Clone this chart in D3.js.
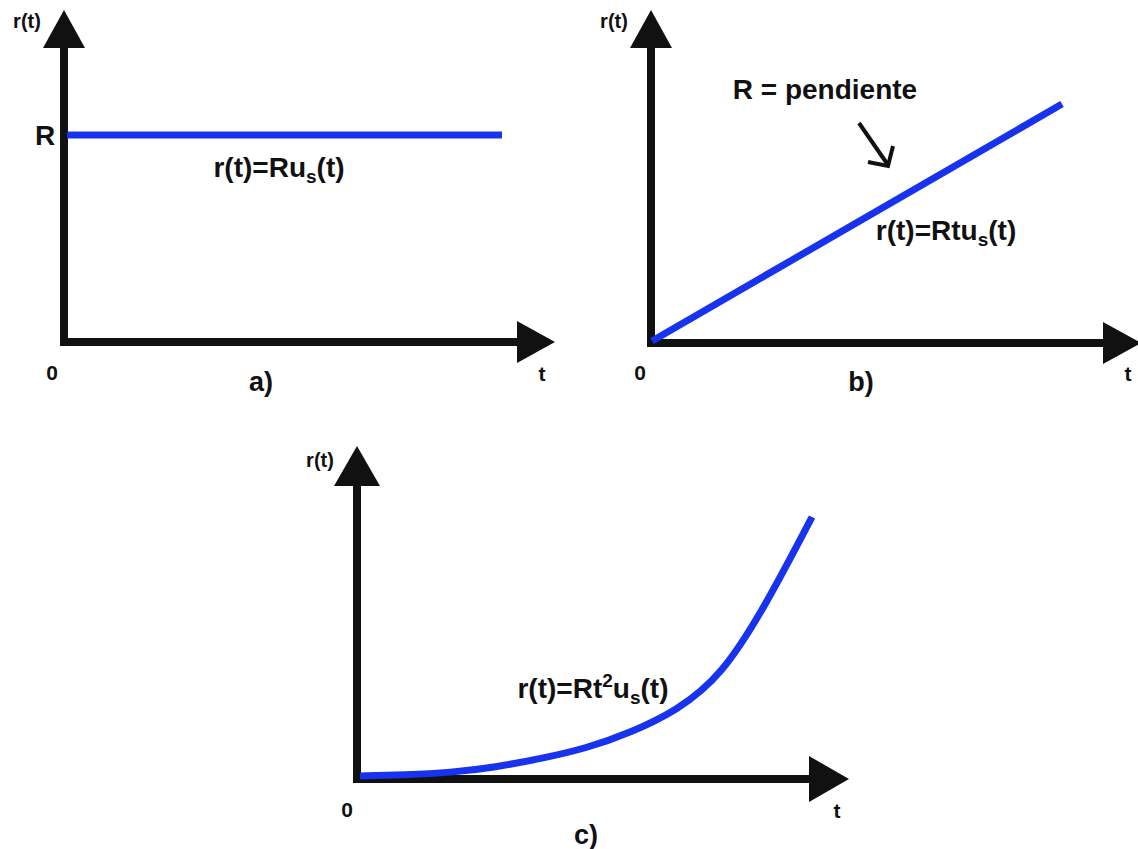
<!DOCTYPE html>
<html><head><meta charset="utf-8">
<script src="https://cdn.jsdelivr.net/npm/d3@7"></script>
<style>
html,body{margin:0;padding:0;background:#fff;}
text{font-family:"Liberation Sans",Arial,sans-serif;font-weight:bold;fill:#111;}
</style></head>
<body>
<svg id="c" width="1138" height="849"></svg>
<script>
// ---- data ----
const tA = [0, 10];            // panel a: step  r(t)=R us(t)
const rA = [1, 1];
const tB = [0, 10];            // panel b: ramp  r(t)=R t us(t)
const rB = [0, 10];
const tC = [0, 1, 2, 3, 4, 5, 6, 7, 8, 9, 10];   // panel c: parabola r(t)=R t^2 us(t)
const rC = [0, 0.05, 0.15, 0.36, 0.68, 1.1, 1.72, 2.6, 4.1, 6.75, 10];
const panelLabels = ["a)", "b)", "c)"];

const svg = d3.select("#c");
const BLUE = "#1733ee", BLACK = "#111";

function axes(ox, oy, xEnd, yTop, head) {
  svg.append("line").attr("x1", ox).attr("x2", ox).attr("y1", oy + 4).attr("y2", yTop + head.l - 1)
    .attr("stroke", BLACK).attr("stroke-width", 8);
  svg.append("path").attr("d", `M${ox},${yTop} L${ox - head.w / 2},${yTop + head.l} L${ox + head.w / 2},${yTop + head.l} Z`).attr("fill", BLACK);
  svg.append("line").attr("x1", ox - 4).attr("x2", xEnd - head.l + 1).attr("y1", oy).attr("y2", oy)
    .attr("stroke", BLACK).attr("stroke-width", 8);
  svg.append("path").attr("d", `M${xEnd},${oy} L${xEnd - head.l},${oy - head.w / 2} L${xEnd - head.l},${oy + head.w / 2} Z`).attr("fill", BLACK);
}
function txt(x, y, s, size, anchor) {
  return svg.append("text").attr("x", x).attr("y", y).attr("font-size", size).attr("text-anchor", anchor || "middle").text(s);
}
function formula(x, y, parts, size) {
  const t = svg.append("text").attr("x", x).attr("y", y).attr("font-size", size).attr("text-anchor", "middle");
  parts.forEach(p => {
    const ts = t.append("tspan").text(p.s);
    if (p.sub) ts.attr("font-size", size * 0.68).attr("dy", 6);
    else if (p.sup) ts.attr("font-size", size * 0.68).attr("dy", -11);
    else if (p.back) ts.attr("dy", p.back);
  });
  return t;
}

// ---- Panel a ----
{
  const x = d3.scaleLinear([0, 10], [67, 502]);
  const y = d3.scaleLinear([0, 1], [342, 135]);
  axes(64, 342, 555, 10, {w: 42, l: 38});
  svg.append("path").datum(tA.map((t, i) => [t, rA[i]]))
    .attr("d", d3.line().x(d => x(d[0])).y(d => y(d[1])))
    .attr("fill", "none").attr("stroke", BLUE).attr("stroke-width", 7);
  txt(27, 28, "r(t)", 20);
  txt(45, 145, "R", 28);
  txt(52, 380, "0", 21);
  txt(542, 381, "t", 21);
  txt(261, 391, panelLabels[0], 27);
  formula(279, 177, [{s: "r(t)=Ru"}, {s: "s", sub: true}, {s: "(t)", back: -6}], 28);
}

// ---- Panel b ----
{
  const x = d3.scaleLinear([0, 10], [652, 1062]);
  const y = d3.scaleLinear([0, 10], [341, 104]);
  axes(651, 343, 1141, 10, {w: 42, l: 38});
  svg.append("path").datum(tB.map((t, i) => [t, rB[i]]))
    .attr("d", d3.line().x(d => x(d[0])).y(d => y(d[1])))
    .attr("fill", "none").attr("stroke", BLUE).attr("stroke-width", 7);
  txt(614, 28, "r(t)", 20);
  txt(640, 380, "0", 21);
  txt(1128, 381, "t", 21);
  txt(861, 391, panelLabels[1], 27);
  txt(825, 99, "R = pendiente", 28);
  svg.append("line").attr("x1", 859).attr("y1", 123).attr("x2", 888).attr("y2", 165)
    .attr("stroke", BLACK).attr("stroke-width", 4);
  svg.append("path").attr("d", "M893,146 L888,166 L868,162").attr("fill", "none")
    .attr("stroke", BLACK).attr("stroke-width", 4).attr("stroke-linejoin", "miter");
  formula(946, 240, [{s: "r(t)=Rtu"}, {s: "s", sub: true}, {s: "(t)", back: -6}], 28);
}

// ---- Panel c ----
{
  const x = d3.scaleLinear([0, 10], [360, 812]);
  const y = d3.scaleLinear([0, 10], [776, 517]);
  axes(357, 779, 849, 446, {w: 46, l: 40});
  svg.append("path").datum(tC.map((t, i) => [t, rC[i]]))
    .attr("d", d3.line().x(d => x(d[0])).y(d => y(d[1])).curve(d3.curveNatural))
    .attr("fill", "none").attr("stroke", BLUE).attr("stroke-width", 7);
  txt(320, 467, "r(t)", 20);
  txt(347, 817, "0", 21);
  txt(837, 818, "t", 21);
  txt(586, 844, panelLabels[2], 27);
  formula(593, 698, [{s: "r(t)=Rt"}, {s: "2", sup: true}, {s: "u", back: 11}, {s: "s", sub: true}, {s: "(t)", back: -6}], 28);
}
</script>
</body></html>
